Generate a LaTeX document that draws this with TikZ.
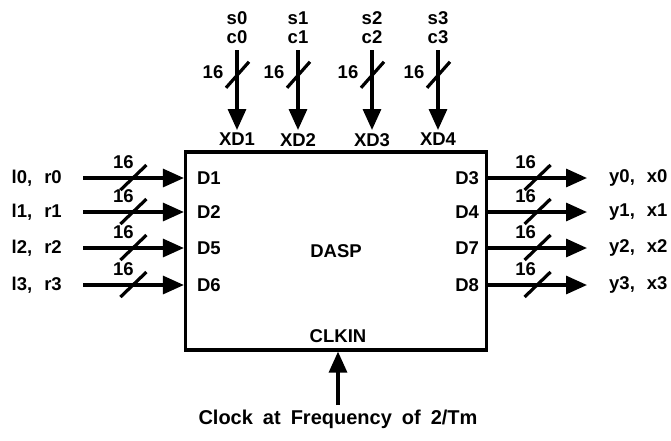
\documentclass[tikz,border=0pt]{standalone}
\usepackage{fontspec}
\setmainfont{Liberation Sans}[WordSpace=1.8]
\usetikzlibrary{arrows.meta,positioning,calc}
\tikzset{
  sig/.style ={line width=3.2pt, -{Triangle[length=21pt,width=18pt]}},
  cut/.style ={line width=3.2pt},
  lbl/.style ={font=\fontsize{18.5}{19}\selectfont\bfseries, inner sep=1pt},
  chip/.style={draw, line width=3.2pt, minimum width=301pt, minimum height=198pt,
               font=\fontsize{18.5}{19}\selectfont\bfseries},
}
\begin{document}
\begin{tikzpicture}[x=1pt,y=-1pt]
\useasboundingbox (0,0) rectangle (671,440);

\node[chip] (dasp) at (336,251) {DASP};

% inputs on the left
\foreach \y/\i/\d in {178/0/D1, 212/1/D2, 248/2/D5, 285/3/D6} {
  \coordinate (in\i) at (83,\y);
  \draw[sig] (in\i) -- coordinate[pos=0.5] (ic\i) (in\i -| dasp.west);
  \draw[cut] ($(ic\i)+(-13,12)$) -- ($(ic\i)+(13,-13)$);
  \node[lbl] at ($(ic\i)+(-10,-16)$) {16};
  \node[lbl, left=20pt of in\i] {l\i,\hspace{12pt}r\i};
  \node[lbl, right=12pt] at (dasp.west |- in\i) {\d};
}

% outputs on the right
\foreach \y/\i/\d in {178/0/D3, 212/1/D4, 248/2/D7, 285/3/D8} {
  \coordinate (out\i) at (587,\y);
  \draw[sig] (dasp.east |- out\i) -- coordinate[pos=0.5] (oc\i) (out\i);
  \draw[cut] ($(oc\i)+(-13,12)$) -- ($(oc\i)+(13,-13)$);
  \node[lbl] at ($(oc\i)+(-12,-16)$) {16};
  \node[lbl, right=21pt of out\i] {y\i,\hspace{12pt}x\i};
  \node[lbl, left=8pt] at (dasp.east |- out\i) {\d};
}

% control inputs on top
\foreach \x/\i/\n in {237/0/1, 298/1/2, 372/2/3, 438/3/4} {
  \coordinate (top\i) at (\x,50);
  \coordinate (tip\i) at (\x,130);
  \draw[sig] (top\i) -- coordinate[pos=0.31] (tc\i) (tip\i);
  \draw[cut] ($(tc\i)+(-11,13)$) -- ($(tc\i)+(12,-13)$);
  \node[lbl] at ($(tc\i)+(-24,-3)$) {16};
  \node[lbl, align=center, above=5pt of top\i] {s\i\\c\i};
  \node[lbl, below=2pt of tip\i] {XD\n};
}

% clock
\coordinate (clk) at (338,405);
\draw[sig] (clk) -- (clk |- dasp.south);
\node[lbl, above=8pt] at (clk |- dasp.south) {CLKIN};
\node[lbl, font=\fontsize{20}{22}\selectfont\bfseries, below=4pt of clk]
  {Clock at Frequency of 2/Tm};
\end{tikzpicture}
\end{document}
